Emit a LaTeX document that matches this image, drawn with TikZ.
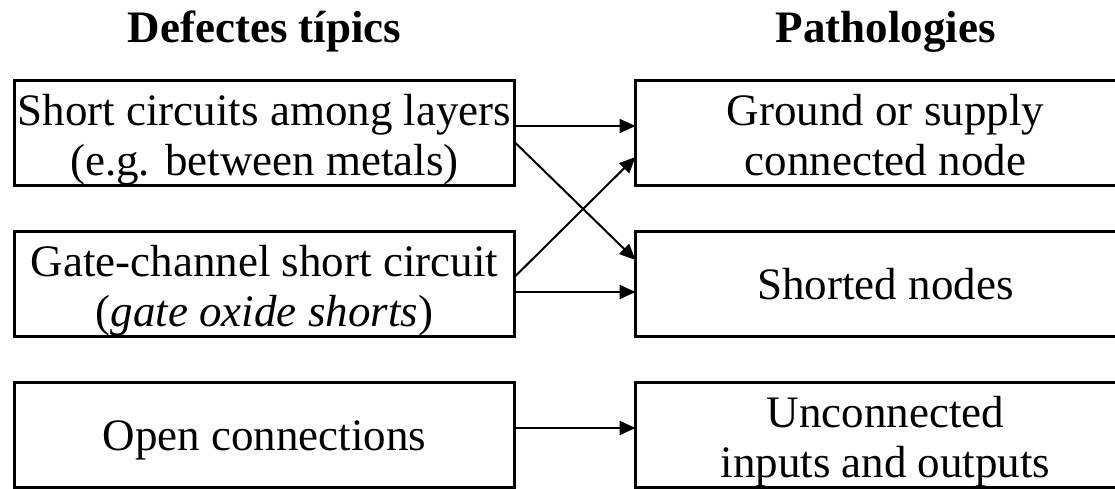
\documentclass[tikz,border=0pt]{standalone}
\usepackage{fontspec}
\setmainfont{Liberation Serif}
\usetikzlibrary{positioning,arrows.meta}
\newcommand{\cellbody}[2][45pt]{\parbox[c][105pt][t]{500pt}{\centering\rule{0pt}{#1}#2}}
\begin{document}
\begin{tikzpicture}[
  x=1pt, y=-1pt,
  block/.style={draw, line width=2.8pt, inner sep=0pt, outer sep=0pt, font=\fontsize{45pt}{50pt}\selectfont},
  title/.style={anchor=base, font=\fontsize{45pt}{50pt}\selectfont\bfseries},
  link/.style={-{Triangle[length=16pt,width=14pt]}, line width=2pt},
  node distance=46pt and 121pt
]
\useasboundingbox (0,0) rectangle (1115,489);
\clip (0,0) rectangle (1115,489);
\node[title] (hdef) at (264.5,43) {Defectes típics};
\node[title] (hpat) at (885.5,43) {Pathologies};

\node[block] (def1) at (264.5,133) {\cellbody{Short circuits among layers\\(e.g. between metals)}};
\node[block, below=of def1] (def2) {\cellbody{Gate-channel short circuit\\(\textit{gate oxide shorts})}};
\node[block, below=of def2] (def3) {\cellbody[68pt]{Open connections}};
\node[block, right=of def1] (pat1) {\cellbody{Ground or supply\\connected node}};
\node[block, right=of def2] (pat2) {\cellbody[68pt]{Shorted nodes}};
\node[block, right=of def3] (pat3) {\cellbody{Unconnected\\inputs and outputs}};

\draw[link] ([yshift=7pt]def1.east) -- ([yshift=7pt]pat1.west);
\draw[link] ([yshift=-9pt]def1.east) -- ([yshift=24pt]pat2.west);
\draw[link] ([yshift=7pt]def2.east) -- ([yshift=-24pt]pat1.west);
\draw[link] ([yshift=-8pt]def2.east) -- ([yshift=-8pt]pat2.west);
\draw[link] ([yshift=7pt]def3.east) -- ([yshift=7pt]pat3.west);
\end{tikzpicture}
\end{document}
